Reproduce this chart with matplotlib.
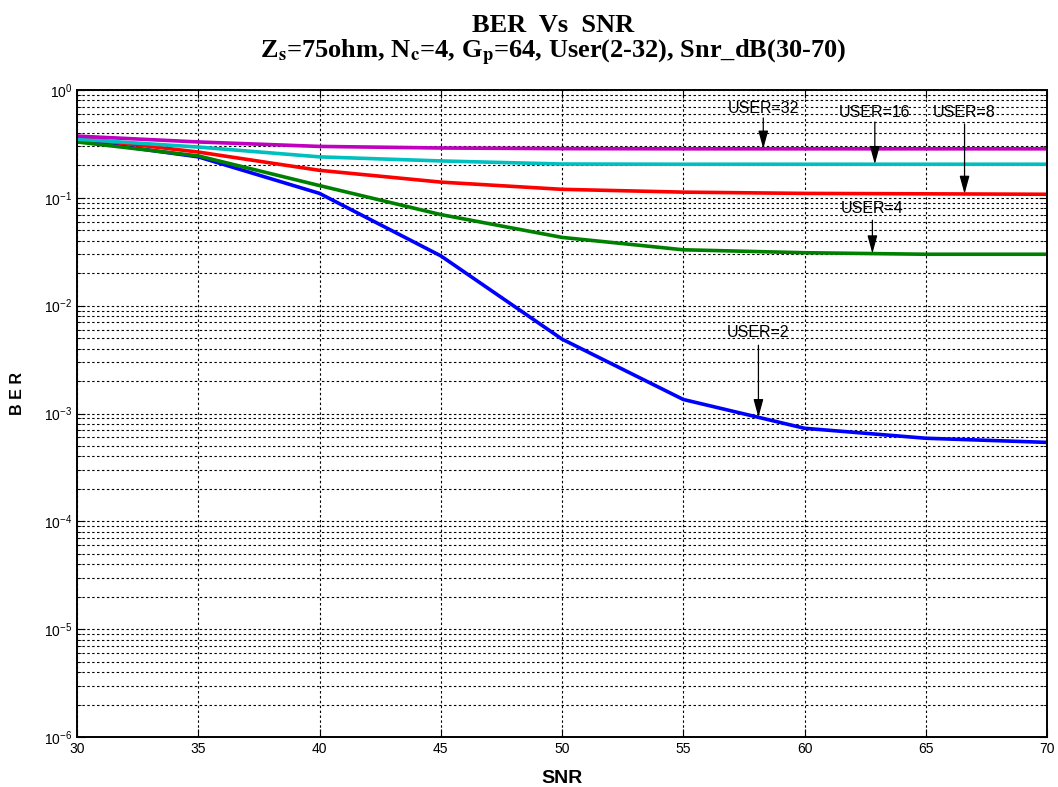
import numpy as np
import matplotlib
matplotlib.use("Agg")
import matplotlib.pyplot as plt
from matplotlib.ticker import LogLocator, FixedLocator, NullFormatter

plt.rcParams['font.family'] = ['Liberation Sans Narrow', 'Liberation Sans', 'DejaVu Sans']
plt.rcParams['mathtext.fontset'] = 'stix'

# SNR in dB
snr_db = [30, 35, 40, 45, 50, 55, 60, 65, 70]

# BER for each number of users
ber_user2 = [0.343, 0.240, 0.110, 0.029, 0.0049, 0.00135, 0.00073, 0.00059, 0.00054]
ber_user4 = [0.330, 0.245, 0.130, 0.070, 0.043, 0.033, 0.031, 0.030, 0.030]
ber_user8 = [0.360, 0.266, 0.180, 0.140, 0.120, 0.113, 0.110, 0.109, 0.108]
ber_user16 = [0.350, 0.296, 0.240, 0.220, 0.206, 0.205, 0.205, 0.205, 0.205]
ber_user32 = [0.374, 0.330, 0.300, 0.290, 0.286, 0.285, 0.285, 0.285, 0.285]

series = [
    (ber_user2, (0, 0, 1)),
    (ber_user4, (0, 0.5, 0)),
    (ber_user8, (1, 0, 0)),
    (ber_user16, (0, 0.75, 0.75)),
    (ber_user32, (0.75, 0, 0.75)),
]

# Curve labels: text, arrow x position, label height, arrow tail height
labels = ["USER=32", "USER=16", "USER=8", "USER=4", "USER=2"]
arrow_x = [58.3, 62.9, 66.6, 62.8, 58.1]
label_y = [0.68, 0.625, 0.625, 0.080, 0.0056]
tail_y = [0.55, 0.505, 0.484, 0.062, 0.0043]
label_series = [ber_user32, ber_user16, ber_user8, ber_user4, ber_user2]

fig = plt.figure(figsize=(10.58, 7.87), dpi=100)
ax = fig.add_axes([0.0728, 0.0635, 0.9168, 0.8221])

for vals, col in series:
    ax.semilogy(snr_db, vals, color=col, lw=2.6, solid_joinstyle='round')

ax.set_xlim(30, 70)
ax.set_ylim(1e-6, 1)
ax.xaxis.set_major_locator(FixedLocator(snr_db))
ax.yaxis.set_major_locator(LogLocator(base=10, numticks=10))
ax.yaxis.set_minor_locator(LogLocator(base=10, subs=np.arange(2, 10), numticks=20))
ax.yaxis.set_minor_formatter(NullFormatter())

grid_kw = dict(color='black', linestyle=(0, (2.2, 2.2)), linewidth=0.8)
ax.grid(True, which='major', axis='both', **grid_kw)
ax.grid(True, which='minor', axis='y', **grid_kw)

ax.tick_params(which='both', direction='in', top=True, right=True, labelsize=10)
ax.tick_params(which='major', length=6)
ax.tick_params(which='minor', length=3)
for sp in ax.spines.values():
    sp.set_linewidth(1.4)

for txt, xa, ly, ty, vals in zip(labels, arrow_x, label_y, tail_y, label_series):
    tip = 10 ** np.interp(xa, snr_db, np.log10(vals))
    ax.annotate('', xy=(xa, tip), xytext=(xa, ty),
                arrowprops=dict(arrowstyle='-|>,head_length=1.1,head_width=0.3',
                                color='black', lw=0.9, shrinkA=0, shrinkB=0))
    ax.text(xa, ly, txt, ha='center', va='center', fontsize=11.5)

ax.set_xlabel('SNR', fontsize=14, fontweight='bold')
ax.xaxis.set_label_coords(0.5, -0.071, transform=ax.transAxes)
ax.xaxis.label.set_va('baseline')
ax.set_ylabel('B E R', fontsize=11.5, fontweight='bold')
ax.yaxis.set_label_coords(18 / 1058, 0.5, transform=fig.transFigure)
ax.yaxis.label.set_va('center')

fig.text(0.523, 1 - 32 / 787, 'BER  Vs  SNR', ha='center', va='baseline',
         fontsize=19, fontweight='bold', family='Liberation Serif')
fig.text(0.523, 1 - 58 / 787,
         r'Z$_\mathbf{s}$=75ohm, N$_\mathbf{c}$=4, G$_\mathbf{p}$=64, User(2-32), Snr_dB(30-70)',
         ha='center', va='baseline', fontsize=19, fontweight='bold', family='Liberation Serif')

fig.savefig('out.png', dpi=100)
